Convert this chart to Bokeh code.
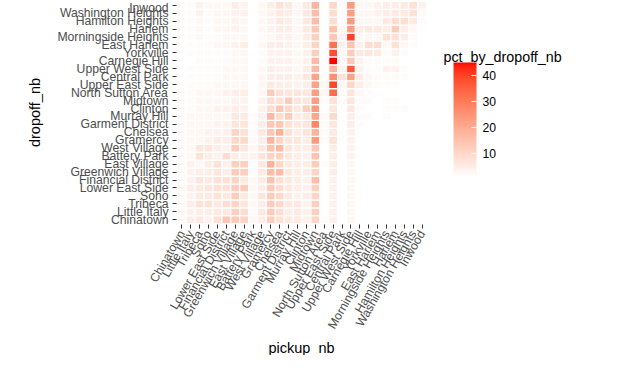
import math
import numpy as np
from bokeh.plotting import figure
from bokeh.models import (ColumnDataSource, LinearColorMapper, ColorBar, FixedTicker, Range1d,
                          Title)
from bokeh.core.properties import value
from bokeh.transform import transform
from bokeh.embed import file_html
from bokeh.resources import INLINE

# ---- categories (same order on both axes) ----
neighborhoods = ["Chinatown", "Little Italy", "Tribeca", "Soho", "Lower East Side",
                 "Financial District", "Greenwich Village", "East Village", "Battery Park",
                 "West Village", "Gramercy", "Chelsea", "Garment District", "Murray Hill",
                 "Clinton", "Midtown", "North Sutton Area", "Upper East Side", "Central Park",
                 "Upper West Side", "Carnegie Hill", "Yorkville", "East Harlem",
                 "Morningside Heights", "Harlem", "Hamilton Heights", "Washington Heights",
                 "Inwood"]

# ---- pct_by_dropoff_nb : one list per dropoff neighbourhood, values per pickup neighbourhood ----
to_inwood              = [2,2,4,3,3,3,5,4,1,3,5,8,6,3,6,18,1,10,2,24,3,3,4,5,5,6,8,4]
to_washington_heights  = [2,2,4,2,3,3,4,4,1,3,4,6,5,3,6,16,1,9,2,23,3,3,4,5,6,6,8,2]
to_hamilton_heights    = [2,2,3,2,3,3,4,3,1,3,4,6,5,3,6,16,1,9,2,24,3,3,3,6,9,9,6,2]
to_harlem              = [2,2,3,2,3,3,4,3,1,3,4,5,5,3,6,14,1,15,3,23,5,6,6,5,13,5,3,1]
to_morningside_heights = [2,2,3,2,2,3,3,3,1,2,3,4,4,3,5,12,1,14,4,40,3,3,3,8,8,5,2,1]
to_east_harlem         = [1,2,2,2,3,3,4,5,1,3,5,5,4,3,5,11,1,32,4,15,4,9,9,3,8,3,2,1]
to_yorkville           = [1,2,2,2,2,2,3,3,1,2,4,4,4,3,4,12,1,38,3,13,6,7,6,2,4,2,1,1]
to_carnegie_hill       = [1,1,2,2,2,2,3,3,1,2,4,4,4,3,4,17,1,45,3,14,4,2,2,2,2,1,1,1]
to_upper_west_side     = [1,2,2,2,2,3,3,3,1,3,5,4,4,3,5,17,1,18,4,36,4,2,2,4,4,2,1,1]
to_central_park        = [1,2,2,2,2,3,3,3,1,3,5,5,5,4,6,22,2,26,8,22,5,3,2,2,2,2,1,1]
to_upper_east_side     = [1,2,2,2,3,3,3,3,1,3,6,5,5,4,5,22,3,39,3,10,5,3,2,2,2,1,1,1]
to_north_sutton_area   = [2,2,3,3,3,4,5,5,1,3,13,8,7,7,6,23,3,33,2,7,3,2,1,1,1,1,1,1]
to_midtown             = [2,2,3,3,3,3,4,4,1,4,9,8,13,7,7,23,2,8,2,7,2,2,1,2,2,1,1,1]
to_clinton             = [2,2,3,3,4,4,5,4,1,4,9,14,10,6,12,24,1,7,1,6,2,1,1,2,2,2,1,1]
to_murray_hill         = [2,3,3,3,3,3,6,6,2,4,17,9,13,5,6,21,2,10,1,5,2,2,1,2,1,1,1,1]
to_garment_district    = [2,3,3,3,4,4,7,7,2,5,14,14,8,6,7,28,2,7,1,5,2,1,1,1,1,1,1,1]
to_chelsea             = [2,3,3,4,4,4,11,8,2,6,14,19,8,5,7,18,2,6,1,4,1,1,1,1,1,1,1,1]
to_gramercy            = [2,3,3,4,5,5,10,10,2,5,18,11,7,7,5,24,2,8,1,4,1,1,1,1,1,1,1,1]
to_west_village        = [2,3,7,7,5,4,13,7,3,6,15,17,7,5,5,14,1,5,1,4,1,1,1,1,1,1,1,1]
to_battery_park        = [2,3,8,5,4,9,5,4,4,7,11,11,6,5,4,15,1,5,1,4,1,1,1,1,1,1,1,1]
to_east_village        = [2,4,3,5,8,4,12,12,2,6,19,10,6,5,5,13,2,5,1,3,1,1,1,1,1,1,1,1]
to_greenwich_village   = [2,4,5,5,7,5,13,12,2,6,16,16,6,5,5,11,1,5,1,3,1,1,1,1,1,1,1,1]
to_financial_district  = [2,4,7,6,8,8,11,6,3,5,15,8,6,5,4,16,1,4,1,3,1,1,1,1,1,1,1,1]
to_lower_east_side     = [3,5,6,7,8,8,13,13,3,5,13,9,6,5,4,12,1,4,1,3,1,1,1,1,1,1,1,1]
to_soho                = [2,4,6,6,8,6,13,6,3,7,13,10,6,4,5,11,1,4,1,3,1,1,1,1,1,1,1,1]
to_tribeca             = [2,5,8,8,6,9,11,7,3,5,13,10,6,6,4,12,1,4,1,3,1,1,1,1,1,1,1,1]
to_little_italy        = [3,4,5,5,6,6,12,9,2,6,13,9,5,6,4,12,1,4,1,3,1,1,1,1,1,1,1,1]
to_chinatown           = [2,5,6,4,8,14,13,11,3,5,12,8,6,6,4,11,2,4,1,3,1,1,1,1,1,1,1,1]

legend_ticks = [10, 20, 30, 40]
legend_title = "pct_by_dropoff_nb"
x_title = "pickup_nb"
y_title = "dropoff_nb"

rows = [to_chinatown, to_little_italy, to_tribeca, to_soho, to_lower_east_side,
        to_financial_district, to_greenwich_village, to_east_village, to_battery_park,
        to_west_village, to_gramercy, to_chelsea, to_garment_district, to_murray_hill,
        to_clinton, to_midtown, to_north_sutton_area, to_upper_east_side, to_central_park,
        to_upper_west_side, to_carnegie_hill, to_yorkville, to_east_harlem,
        to_morningside_heights, to_harlem, to_hamilton_heights, to_washington_heights,
        to_inwood]

n = len(neighborhoods)
pick, drop, val = [], [], []
for di, r in enumerate(rows):
    for pi, v in enumerate(r):
        pick.append(pi)
        drop.append(di)
        val.append(v)
source = ColumnDataSource(dict(pickup_nb=pick, dropoff_nb=drop, pct=val))

# ---- white -> red gradient interpolated in CIE Lab (like ggplot scale_fill_gradient) ----
M = np.array([[0.4124564, 0.3575761, 0.1804375],
              [0.2126729, 0.7151522, 0.0721750],
              [0.0193339, 0.1191920, 0.9503041]])
WHITE = np.array([0.95047, 1.0, 1.08883])

def srgb_to_lab(rgb):
    c = np.array(rgb, dtype=float) / 255.0
    c = np.where(c <= 0.04045, c / 12.92, ((c + 0.055) / 1.055) ** 2.4)
    xyz = (M @ c) / WHITE
    f = np.where(xyz > 0.008856, np.cbrt(xyz), 7.787 * xyz + 16 / 116)
    return np.array([116 * f[1] - 16, 500 * (f[0] - f[1]), 200 * (f[1] - f[2])])

def lab_to_hex(lab):
    L, a, b = lab
    fy = (L + 16) / 116
    f = np.array([fy + a / 500, fy, fy - b / 200])
    xyz = np.where(f ** 3 > 0.008856, f ** 3, (f - 16 / 116) / 7.787) * WHITE
    lin = np.linalg.inv(M) @ xyz
    lin = np.clip(lin, 0, None)
    c = np.where(lin <= 0.0031308, 12.92 * lin, 1.055 * lin ** (1 / 2.4) - 0.055)
    c = np.clip(np.round(c * 255), 0, 255).astype(int)
    return "#%02x%02x%02x" % tuple(c)

lab_lo = srgb_to_lab((255, 255, 255))
lab_hi = srgb_to_lab((255, 0, 0))
palette = [lab_to_hex(lab_lo + (lab_hi - lab_lo) * t) for t in np.linspace(0, 1, 256)]

mapper = LinearColorMapper(palette=palette, low=min(val), high=max(val))

FONT = "Liberation Sans"

# layout (pixels): heatmap panel 251 px wide, legend area to its right inside the same frame
LEFT, PANEL_W, FIG_W, FIG_H = 176, 251, 600, 355
PAD = 0.6                                   # ggplot discrete expansion
unit = PANEL_W / (n - 1 + 2 * PAD)          # px per category
x_end = -PAD + (FIG_W - LEFT) / unit

p = figure(x_range=Range1d(-PAD, x_end), y_range=Range1d(-PAD, n - 1 + PAD),
           width=FIG_W, height=FIG_H, output_backend="svg", toolbar_location=None,
           min_border_left=LEFT, min_border_right=0, min_border_top=0,
           min_border_bottom=0)

p.rect(x="pickup_nb", y="dropoff_nb", width=1, height=1, source=source,
       fill_color=transform("pct", mapper), line_color="white", line_width=1.2)

p.outline_line_color = None
p.grid.grid_line_color = None

labels = {i: name for i, name in enumerate(neighborhoods)}
for ax in (p.xaxis[0], p.yaxis[0]):
    ax.ticker = FixedTicker(ticks=list(range(n)))
    ax.major_label_overrides = labels
    ax.bounds = (-PAD, n - 1 + PAD)
    ax.axis_line_color = None
    ax.major_tick_out = 4
    ax.major_tick_in = 0
    ax.major_tick_line_color = "#333333"
    ax.minor_tick_line_color = None
    ax.minor_tick_out = 0
    ax.major_label_text_font = FONT
    ax.major_label_text_font_size = "12.2px"
    ax.major_label_text_color = "#4D4D4D"
    ax.axis_label_text_font = FONT
    ax.axis_label_text_font_size = "14.5px"
    ax.axis_label_text_font_style = "normal"
    ax.axis_label_text_color = "black"

p.xaxis.major_label_orientation = math.pi / 3
p.xaxis.major_label_standoff = 3
p.yaxis.axis_label = y_title
p.yaxis.major_label_standoff = 4
p.yaxis.axis_label_standoff = 11

# x-axis title, centred under the heatmap panel (not under the whole frame)
p.add_layout(Title(text=x_title, align="left", offset=92, standoff=0,
                   text_font=FONT, text_font_size="14.5px", text_font_style="normal",
                   text_color="black"), "below")

color_bar = ColorBar(color_mapper=mapper, ticker=FixedTicker(ticks=legend_ticks),
                     width=23, height=115, location=(277, 47), padding=0,
                     major_label_text_font=FONT,
                     major_label_text_font_size="12.2px", label_standoff=6,
                     major_label_text_color="black",
                     major_tick_line_color="white", major_tick_in=5, major_tick_out=0,
                     bar_line_color=None, border_line_color=None,
                     background_fill_alpha=0)
p.add_layout(color_bar)

# legend title: drawn as text in the frame's empty area to the right of the tiles
p.text(x=[-PAD + 267 / unit], y=[n - 1 + PAD], text=[legend_title], y_offset=56,
       text_font=value(FONT), text_font_size="14.3px", text_color="black",
       text_baseline="alphabetic", text_align="left")

open("out.html", "w").write(file_html(p, INLINE))
